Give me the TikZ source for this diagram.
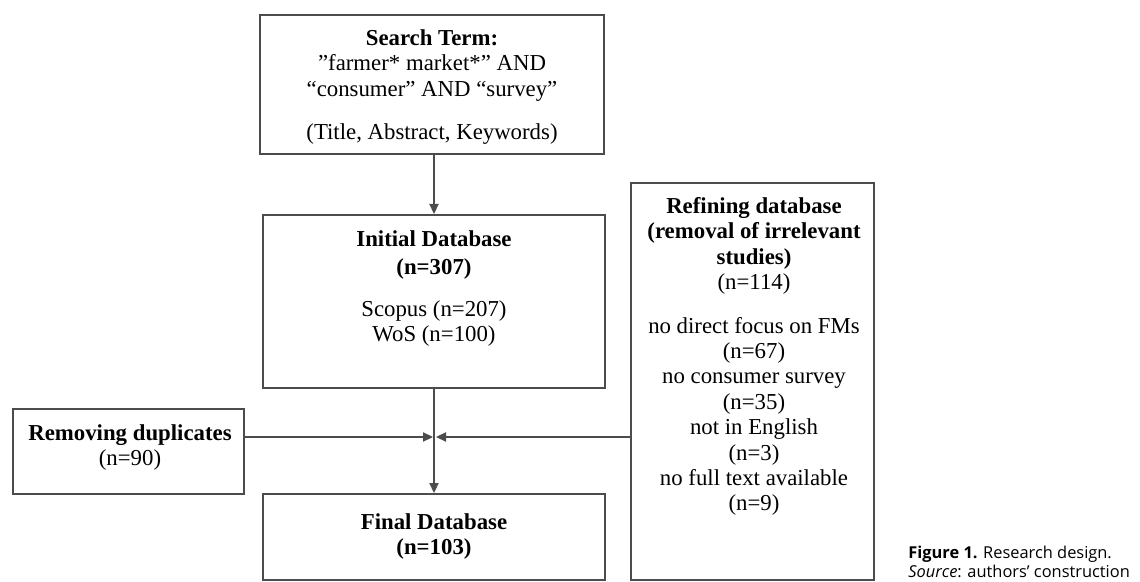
\documentclass[tikz,border=0pt]{standalone}
\usepackage{fontspec}
\setmainfont{Liberation Serif}
\newfontfamily\capfont{Open Sans}
\usetikzlibrary{arrows.meta}
\begin{document}
\begin{tikzpicture}[x=0.5pt,y=-0.5pt,
  box/.style={draw=black!70,line width=1pt,rectangle,inner sep=0pt},
  txt/.style={align=center,inner sep=0pt,font=\fontsize{11.4}{12.7}\selectfont},
  conn/.style={draw=black!70,line width=0.7pt},
  arr/.style={conn,-{Triangle[length=5pt,width=4.6pt]},black!70}]
\useasboundingbox (0,0) rectangle (1140,582);

% boxes
\node[box,minimum width=172pt,minimum height=69.5pt] (search) at (432,84.5) {};
\node[box,minimum width=171pt,minimum height=86.5pt] (init) at (434,301.5) {};
\node[box,minimum width=171pt,minimum height=43pt] (final) at (434,537) {};
\node[box,minimum width=115.5pt,minimum height=42.5pt] (dup) at (128.5,451.5) {};
\node[box,minimum width=121.5pt,minimum height=198.5pt] (ref) at (752.5,381.5) {};

% box texts
\node[txt,anchor=north] (searchtxt) at (432,29) {\textbf{Search Term:}\\
  ”farmer* market*” AND\\ “consumer” AND “survey”\\[9pt] (Title, Abstract, Keywords)};
\node[txt,anchor=north] (inittxt) at (434,230) {\textbf{Initial Database}\\[1.5pt] \textbf{(n=307)}\\[8pt]
  Scopus (n=207)\\ WoS (n=100)};
\node[txt,anchor=north] (finaltxt) at (434,513) {\textbf{Final Database}\\ \textbf{(n=103)}};
\node[txt,anchor=north] (duptxt) at (130,424) {\textbf{Removing duplicates}\\ (n=90)};
\node[txt,anchor=north] (reftxt) at (754,197) {\textbf{Refining database}\\
  \textbf{(removal of irrelevant}\\ \textbf{studies)}\\ (n=114)\\[9pt]
  no direct focus on FMs\\ (n=67)\\ no consumer survey\\ (n=35)\\ not in English\\ (n=3)\\
  no full text available\\ (n=9)};

% connectors
\coordinate (j) at (434,437);
\draw[arr] (search.south -| j) -- (init.north -| j);
\draw[arr] (init.south -| j) -- (final.north -| j);
\draw[arr,shorten >=0.5pt] (dup.east |- j) -- (j);
\draw[arr,shorten >=1pt] (ref.west |- j) -- (j);

% caption
\node[anchor=north west,align=left,inner sep=0pt,font=\capfont\fontsize{8.2}{9.4}\selectfont] (cap) at (908,546)
  {\textbf{Figure 1.} Research design.\\ \textit{Source}: authors’ construction};
\end{tikzpicture}
\end{document}
